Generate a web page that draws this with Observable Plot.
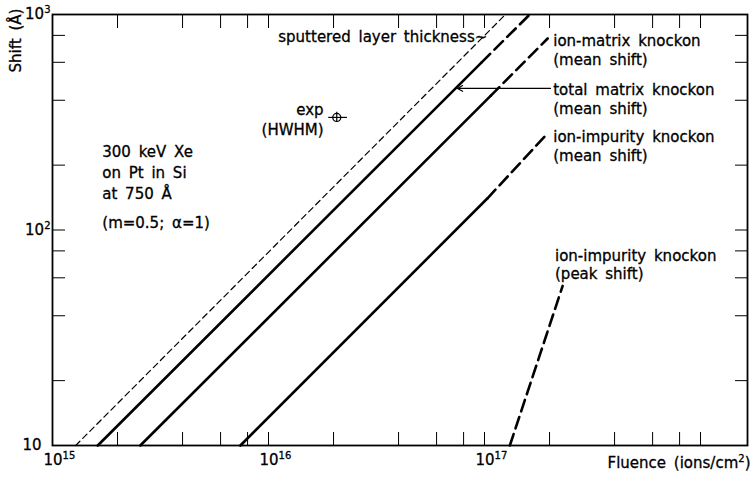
<!DOCTYPE html>
<html><head><meta charset="utf-8">
<script src="https://cdn.jsdelivr.net/npm/d3@7"></script>
<script src="https://cdn.jsdelivr.net/npm/@observablehq/plot@0.6"></script>
<style>
html,body{margin:0;padding:0;background:#fff;}
svg text{word-spacing:3px;stroke:#000;stroke-width:0.3px;}
</style></head><body><div id="chart"></div>
<script>
// ---- data ----
const fluenceSputtered = [1.28e15, 1.25e17];
const shiftSputtered = [10, 1000];
const fluenceTotalSolid = [1.62e15, 9.7e16];
const shiftTotalSolid = [10, 600];
const fluenceTotalDash = [9.7e16, 1.62e17];
const shiftTotalDash = [600, 1000];
const fluenceIonMatrixSolid = [2.55e15, 1.07e17];
const shiftIonMatrixSolid = [10, 420];
const fluenceIonMatrixDash = [1.07e17, 1.96e17];
const shiftIonMatrixDash = [420, 774];
const fluenceIonImpSolid = [7.41e15, 1.03e17];
const shiftIonImpSolid = [10, 140];
const fluenceIonImpDash = [1.03e17, 1.96e17];
const shiftIonImpDash = [140, 281];
const fluencePeak = [1.31e17, 2.30e17];
const shiftPeak = [10, 55];

const expFluence = [2.07e16];
const expShift = [333];
const expFluenceLow = [1.90e16];
const expFluenceHigh = [2.32e16];
const expShiftLow = [315];
const expShiftHigh = [352];

const xDecades = [1e15, 1e16, 1e17, 1e18];
const xLabelDecades = [1e15, 1e16, 1e17];
const yDecades = [10, 100, 1000];
const tickMultipliers = [1, 2, 4, 6, 8];

const labelSputtered = "sputtered layer thickness~";
const labelIonMatrix = "ion-matrix knockon\n(mean shift)";
const labelTotal = "total matrix knockon\n(mean shift)";
const labelIonImp = "ion-impurity knockon\n(mean shift)";
const labelPeak = "ion-impurity knockon\n(peak shift)";
const labelExp = "exp\n(HWHM)";
const labelConditions = "300 keV Xe\non Pt in Si\nat 750 Å";
const labelParams = "(m=0.5; α=1)";
const labelX = "Fluence (ions/cm²)";
const labelY = "Shift (Å)";

// ---- helpers ----
const supMap = {"0":"⁰","1":"¹","2":"²","3":"³","4":"⁴","5":"⁵","6":"⁶","7":"⁷","8":"⁸","9":"⁹"};
const supRev = Object.fromEntries(Object.entries(supMap).map(([k, v]) => [v, k]));
const pow10 = d => "10" + String(Math.round(Math.log10(d))).split("").map(c => supMap[c]).join("");
const xTicks = xDecades.flatMap(d => tickMultipliers.map(m => m * d)).filter(v => v <= 1.0001e18);
const yTicks = yDecades.flatMap(d => tickMultipliers.map(m => m * d)).filter(v => v <= 1000);

const seg = (F, S, opts) => Plot.line(F.map((f, i) => [f, S[i]]), {x: d => d[0], y: d => d[1], stroke: "#000", ...opts});
const thick = {strokeWidth: 2.6};
const thickDash = {strokeWidth: 2.6, strokeDasharray: "12,6"};

const chart = Plot.plot({
  width: 751, height: 477,
  marginLeft: 52, marginRight: 4, marginTop: 14, marginBottom: 32,
  style: {fontFamily: "DejaVu Sans", fontSize: "15px", color: "#000", background: "#fff"},
  x: {type: "log", domain: [1e15, 1.65e18]},
  y: {type: "log", domain: [10, 1000]},
  marks: [
    Plot.axisX(xTicks, {anchor: "bottom", tickSize: -13, tickFormat: () => "", label: null}),
    Plot.axisX(xTicks, {anchor: "top", tickSize: -13, tickFormat: () => "", label: null}),
    Plot.axisY(yTicks, {anchor: "left", tickSize: -13, tickFormat: () => "", label: null}),
    Plot.axisY(yTicks, {anchor: "right", tickSize: -13, tickFormat: () => "", label: null}),
    Plot.axisX(xLabelDecades, {anchor: "bottom", tickSize: 0, tickPadding: 9, tickFormat: pow10, textAnchor: "start", dx: -9, label: null, fontSize: 15}),
    Plot.axisY([100, 1000], {anchor: "left", tickSize: 0, tickPadding: 2, tickFormat: pow10, label: null, fontSize: 15}),
    Plot.axisY([10], {anchor: "left", tickSize: 0, tickPadding: 11, tickFormat: () => "10", label: null, fontSize: 15}),
    Plot.frame({stroke: "#000", strokeWidth: 1.8}),

    seg(fluenceSputtered, shiftSputtered, {strokeWidth: 1.2, strokeDasharray: "6,4"}),
    seg(fluenceTotalSolid, shiftTotalSolid, thick),
    seg(fluenceTotalDash, shiftTotalDash, thickDash),
    seg(fluenceIonMatrixSolid, shiftIonMatrixSolid, thick),
    seg(fluenceIonMatrixDash, shiftIonMatrixDash, thickDash),
    seg(fluenceIonImpSolid, shiftIonImpSolid, thick),
    seg(fluenceIonImpDash, shiftIonImpDash, thickDash),
    seg(fluencePeak, shiftPeak, thickDash),

    Plot.ruleY(expShift, {y: d => d, x1: expFluenceLow, x2: expFluenceHigh, stroke: "#000", strokeWidth: 1.2}),
    Plot.ruleX(expFluence, {x: d => d, y1: expShiftLow, y2: expShiftHigh, stroke: "#000", strokeWidth: 1.2}),
    Plot.dot(expFluence, {x: d => d, y: expShift, r: 4, stroke: "#000", strokeWidth: 1.3, fill: "none"}),

    Plot.arrow([0], {x1: 2.02e17, y1: 454, x2: 7.5e16, y2: 454, stroke: "#000", strokeWidth: 1.1, headLength: 8}),

    Plot.text([labelSputtered], {x: 1.03e17, y: 782, textAnchor: "end"}),
    Plot.text([labelIonMatrix], {x: 2.08e17, y: 692, textAnchor: "start", lineHeight: 1.27}),
    Plot.text([labelTotal], {x: 2.08e17, y: 410, textAnchor: "start", lineHeight: 1.27}),
    Plot.text([labelIonImp], {x: 2.08e17, y: 247, textAnchor: "start", lineHeight: 1.27}),
    Plot.text([labelPeak], {x: 2.12e17, y: 69, textAnchor: "start", lineHeight: 1.2}),
    Plot.text([labelExp], {x: 1.80e16, y: 329, textAnchor: "end", lineHeight: 1.3}),
    Plot.text([labelConditions], {x: 1.70e15, y: 187, textAnchor: "start", lineHeight: 1.4}),
    Plot.text([labelParams], {x: 1.70e15, y: 108, textAnchor: "start"}),
    Plot.text([labelX], {frameAnchor: "bottom-right", dx: 3, dy: 22, textAnchor: "end"}),
    Plot.text([labelY], {frameAnchor: "top-left", dx: -42, dy: 26, rotate: -90, textAnchor: "middle"})
  ]
});

// render Unicode superscripts as larger raised tspans (text stays real text)
const svgNS = "http://www.w3.org/2000/svg";
chart.querySelectorAll("text").forEach(t => {
  if (t.children.length) return;
  const chars = [...t.textContent];
  if (!chars.some(c => supRev[c])) return;
  t.textContent = "";
  let raised = false;
  let buf = "";
  let mode = null;
  const flush = () => {
    if (!buf) return;
    const ts = document.createElementNS(svgNS, "tspan");
    ts.textContent = buf;
    if (mode === "sup") {
      ts.setAttribute("font-size", "10");
      ts.setAttribute("dy", "-6");
      raised = true;
    } else if (raised) {
      ts.setAttribute("dy", "6");
      raised = false;
    }
    t.appendChild(ts);
    buf = "";
  };
  chars.forEach(c => {
    const m = supRev[c] ? "sup" : "norm";
    if (m !== mode) { flush(); mode = m; }
    buf += supRev[c] || c;
  });
  flush();
});
document.getElementById("chart").appendChild(chart);
</script>
</body></html>
